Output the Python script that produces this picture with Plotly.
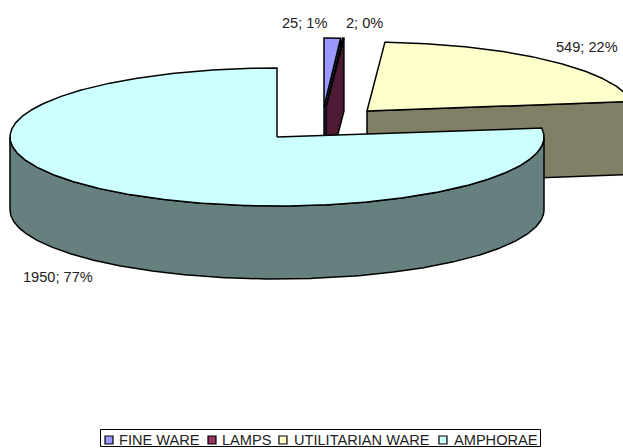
import numpy as np
import plotly.graph_objects as go

categories = ["FINE WARE", "LAMPS", "UTILITARIAN WARE", "AMPHORAE"]
values = [25, 2, 549, 1950]
top_colors = ["#9999FF", "#993366", "#FFFFCC", "#CCFFFF"]
side_colors = ["#4D4D80", "#4D1A33", "#808066", "#668080"]

W, H = 623, 448
RX, RY, DEPTH = 267, 69, 73
# apex of each slice's top face, in pixels (exploded slices)
apex_x = [324, 326, 367, 277]
apex_y = [107, 107, 111, 137]

total = sum(values)
sweeps = [v / total * 360 for v in values]
starts = list(np.cumsum([0] + sweeps[:-1]))


def arc(i, a0, a1, drop=0):
    t = np.radians(np.linspace(a0, a1, max(2, int(abs(a1 - a0) * 2))))
    return apex_x[i] + RX * np.sin(t), apex_y[i] - RY * np.cos(t) + drop


fig = go.Figure()


def poly(xs, ys, color):
    fig.add_trace(go.Scatter(
        x=list(xs), y=list(ys), mode="lines", fill="toself", fillcolor=color,
        line=dict(color="black", width=1.5), hoverinfo="skip", showlegend=False))


def radial_face(i, ang):
    x, y = arc(i, ang, ang)
    ex, ey = x[0], y[0]
    poly([apex_x[i], ex, ex, apex_x[i], apex_x[i]],
         [apex_y[i], ey, ey + DEPTH, apex_y[i] + DEPTH, apex_y[i]], side_colors[i])


def top_face(i):
    x, y = arc(i, starts[i], starts[i] + sweeps[i])
    poly([apex_x[i], *x, apex_x[i]], [apex_y[i], *y, apex_y[i]], top_colors[i])


# Utilitarian ware
radial_face(2, starts[2] + sweeps[2])
top_face(2)
# Fine ware
radial_face(0, starts[0] + sweeps[0])
top_face(0)
# Lamps
radial_face(1, starts[1] + sweeps[1])
top_face(1)
# Amphorae: outer wall, then top
x1, y1 = arc(3, 90, 270)
x2, y2 = arc(3, 270, 90, DEPTH)
poly([*x1, *x2, x1[0]], [*y1, *y2, y1[0]], side_colors[3])
top_face(3)

# Data labels
label_x = [304, 364, 587, 58]
label_y = [23, 23, 47, 277]
for i, v in enumerate(values):
    fig.add_annotation(x=label_x[i], y=label_y[i], text=f"{v}; {round(v / total * 100)}%",
                       showarrow=False, font=dict(family="Liberation Sans, Arial", size=14.6, color="#222222"))

# Legend
legend_marker_x = [109, 212, 283, 443]
legend_text_x = [117, 220, 292, 452]
legend_y = 440
fig.add_shape(type="rect", x0=100.5, x1=540.5, y0=429.5, y1=446.5,
              line=dict(color="black", width=1), fillcolor="white", layer="below")
fig.add_trace(go.Scatter(
    x=legend_marker_x, y=[legend_y] * 4, mode="markers",
    marker=dict(symbol="square", size=8, color=top_colors, line=dict(color="black", width=1.2)),
    hoverinfo="skip", showlegend=False, cliponaxis=False))
for tx, name in zip(legend_text_x, categories):
    fig.add_annotation(x=tx, y=legend_y, text=name, xanchor="left", showarrow=False,
                       font=dict(family="Liberation Sans, Arial", size=14.6, color="#222222"))

fig.update_layout(
    width=W, height=H, margin=dict(l=0, r=0, t=0, b=0), autosize=False,
    paper_bgcolor="white", plot_bgcolor="white", showlegend=False,
    xaxis=dict(range=[0, W], visible=False, fixedrange=True),
    yaxis=dict(range=[H, 0], visible=False, fixedrange=True),
)
fig.write_html("out.html", config={"displayModeBar": False},
               post_script="document.body.style.margin='0';document.body.style.overflow='hidden';")
